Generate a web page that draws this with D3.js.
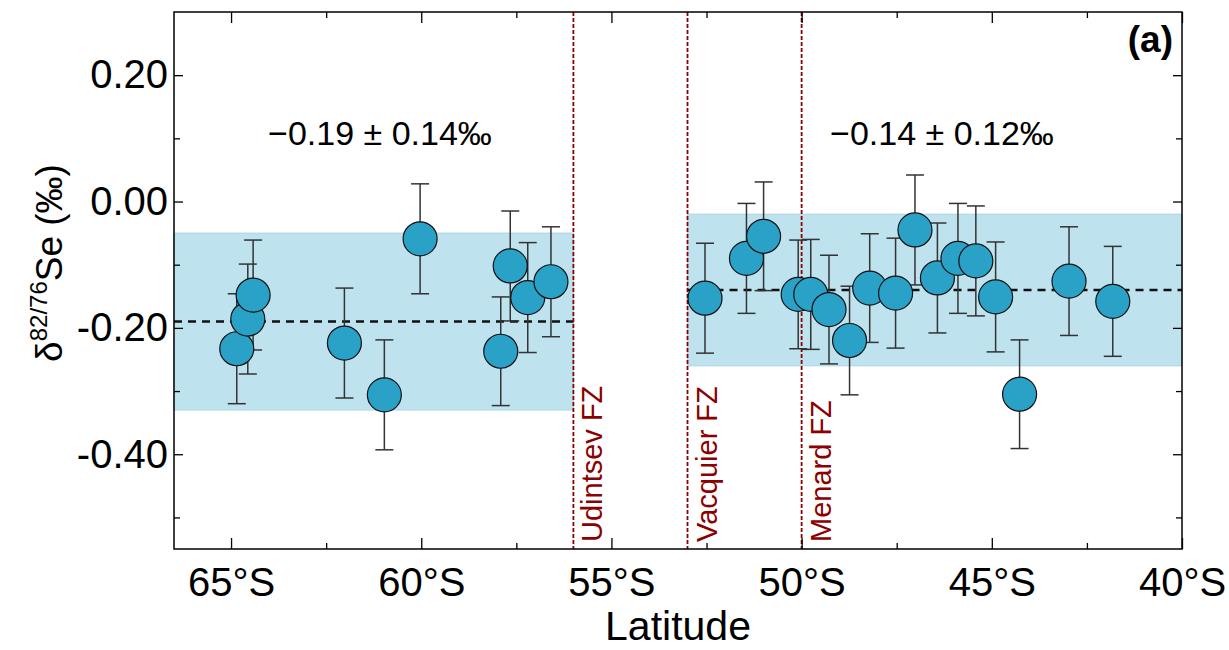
<!DOCTYPE html>
<html>
<head>
<meta charset="utf-8">
<script src="https://cdn.jsdelivr.net/npm/d3@7"></script>
<style>
  html, body { margin: 0; padding: 0; background: #fff; }
  svg { display: block; font-family: "Liberation Sans", Arial, sans-serif; }
</style>
</head>
<body>
<svg id="chart" width="1229" height="650"></svg>
<script>
// Sample latitude (°S), δ82/76Se (‰) and 2SD uncertainty
const latitude = [64.85, 64.56, 64.42, 62.02, 60.97, 60.03, 57.91, 57.66, 57.20, 56.59,
                  52.54, 51.45, 51.00, 50.09, 49.76, 49.28, 48.74, 48.21, 47.53, 47.02,
                  46.43, 45.89, 45.42, 44.90, 44.27, 42.97, 41.82];
const seValue  = [-0.233, -0.186, -0.148, -0.224, -0.306, -0.059, -0.237, -0.102, -0.152, -0.127,
                  -0.153, -0.090, -0.055, -0.147, -0.147, -0.171, -0.220, -0.137, -0.145, -0.045,
                  -0.121, -0.090, -0.094, -0.151, -0.305, -0.126, -0.158];
const seError  = [0.087, 0.087, 0.087, 0.087, 0.087, 0.087, 0.086, 0.087, 0.087, 0.087,
                  0.087, 0.087, 0.086, 0.086, 0.087, 0.086, 0.086, 0.086, 0.087, 0.087,
                  0.087, 0.087, 0.087, 0.087, 0.086, 0.086, 0.087];

// Fracture zones
const fzNames = ["Udintsev FZ", "Vacquier FZ", "Menard FZ"];
const fzLat   = [56.0, 53.0, 50.0];

// Regional averages: [from °S, to °S, mean, 2SD]
const regionFrom = [66.5, 53.0];
const regionTo   = [56.0, 40.0];
const regionMean = [-0.19, -0.14];
const regionSD   = [0.14, 0.12];
const regionText = ["\u22120.19 \u00b1 0.14\u2030", "\u22120.14 \u00b1 0.12\u2030"];

// Axis ticks
const xMajor = [65, 60, 55, 50, 45, 40];
const xMinor = [62.5, 57.5, 52.5, 47.5, 42.5];
const yMajor = [0.20, 0.00, -0.20, -0.40];
const yMinor = [0.10, -0.10, -0.30, -0.50];

const plotLeft = 174, plotRight = 1182, plotTop = 12, plotBottom = 549;
const svg = d3.select("#chart");

const x = d3.scaleLinear().domain([66.5, 40]).range([plotLeft, plotRight]);
const y = d3.scaleLinear().domain([-0.55, 0.30]).range([plotBottom, plotTop]);

// Shaded ±2SD bands
svg.append("g").selectAll("rect").data(regionMean).join("rect")
  .attr("x", (d, i) => x(regionFrom[i]))
  .attr("width", (d, i) => x(regionTo[i]) - x(regionFrom[i]))
  .attr("y", (d, i) => y(d + regionSD[i]))
  .attr("height", (d, i) => y(d - regionSD[i]) - y(d + regionSD[i]))
  .attr("fill", "#bee3ee")
  .attr("stroke", "#a6d6e6")
  .attr("stroke-width", 1);

// Regional mean lines
svg.append("g").selectAll("line").data(regionMean).join("line")
  .attr("x1", (d, i) => x(regionFrom[i]))
  .attr("x2", (d, i) => x(regionTo[i]))
  .attr("y1", d => y(d)).attr("y2", d => y(d))
  .attr("stroke", "#111").attr("stroke-width", 2.5)
  .attr("stroke-dasharray", "8,6");

// Fracture zone markers
svg.append("g").selectAll("line").data(fzLat).join("line")
  .attr("x1", d => x(d)).attr("x2", d => x(d))
  .attr("y1", plotTop).attr("y2", plotBottom)
  .attr("stroke", "#8b0000").attr("stroke-width", 1.8)
  .attr("stroke-dasharray", "4,2");

svg.append("g").selectAll("text").data(fzNames).join("text")
  .attr("transform", (d, i) => `translate(${x(fzLat[i]) + 29},542) rotate(-90)`)
  .attr("fill", "#8b0000")
  .attr("font-size", 29)
  .text(d => d);

// Error bars
const eb = svg.append("g").attr("stroke", "#333").attr("stroke-width", 1.5);
latitude.forEach((lat, i) => {
  const cx = x(lat), y1 = y(seValue[i] + seError[i]), y2 = y(seValue[i] - seError[i]);
  eb.append("line").attr("x1", cx).attr("x2", cx).attr("y1", y1).attr("y2", y2);
  eb.append("line").attr("x1", cx - 9).attr("x2", cx + 9).attr("y1", y1).attr("y2", y1);
  eb.append("line").attr("x1", cx - 9).attr("x2", cx + 9).attr("y1", y2).attr("y2", y2);
});

// Sample points
svg.append("g").selectAll("circle").data(latitude).join("circle")
  .attr("cx", d => x(d))
  .attr("cy", (d, i) => y(seValue[i]))
  .attr("r", 17)
  .attr("fill", "#2aa2c8")
  .attr("stroke", "#111")
  .attr("stroke-width", 1.2);

// Axes (ticks drawn inward on all four sides)
function styleAxis(g, fontSize) {
  g.select(".domain").remove();
  g.selectAll(".tick line").attr("stroke", "#000").attr("stroke-width", 1.3);
  g.selectAll(".tick text").attr("font-size", fontSize).attr("fill", "#000")
    .attr("font-family", "'Liberation Sans', Arial, sans-serif");
}

svg.append("g").attr("transform", `translate(0,${plotBottom})`)
  .call(d3.axisBottom(x).tickValues(xMajor).tickSize(-11).tickPadding(19)
        .tickFormat(d => d + "\u00b0S"))
  .call(g => styleAxis(g, 40));
svg.append("g").attr("transform", `translate(0,${plotBottom})`)
  .call(d3.axisBottom(x).tickValues(xMinor).tickSize(-6).tickFormat(""))
  .call(g => styleAxis(g, 0));
svg.append("g").attr("transform", `translate(0,${plotTop})`)
  .call(d3.axisTop(x).tickValues(xMajor).tickSize(-11).tickFormat(""))
  .call(g => styleAxis(g, 0));
svg.append("g").attr("transform", `translate(0,${plotTop})`)
  .call(d3.axisTop(x).tickValues(xMinor).tickSize(-6).tickFormat(""))
  .call(g => styleAxis(g, 0));

svg.append("g").attr("transform", `translate(${plotLeft},0)`)
  .call(d3.axisLeft(y).tickValues(yMajor).tickSize(-9).tickPadding(6)
        .tickFormat(d => d3.format(".2f")(d).replace("\u2212", "-")))
  .call(g => styleAxis(g, 40));
svg.append("g").attr("transform", `translate(${plotLeft},0)`)
  .call(d3.axisLeft(y).tickValues(yMinor).tickSize(-6).tickFormat(""))
  .call(g => styleAxis(g, 0));
svg.append("g").attr("transform", `translate(${plotRight},0)`)
  .call(d3.axisRight(y).tickValues(yMajor).tickSize(-9).tickFormat(""))
  .call(g => styleAxis(g, 0));
svg.append("g").attr("transform", `translate(${plotRight},0)`)
  .call(d3.axisRight(y).tickValues(yMinor).tickSize(-6).tickFormat(""))
  .call(g => styleAxis(g, 0));

// Plot frame
svg.append("rect")
  .attr("x", plotLeft).attr("y", plotTop)
  .attr("width", plotRight - plotLeft).attr("height", plotBottom - plotTop)
  .attr("fill", "none").attr("stroke", "#000").attr("stroke-width", 1.5);

// Regional average labels
svg.append("g").selectAll("text").data(regionText).join("text")
  .attr("x", (d, i) => i === 0 ? 380 : 942)
  .attr("y", 145)
  .attr("text-anchor", "middle")
  .attr("font-size", 34)
  .text(d => d);

// Panel label
svg.append("text")
  .attr("x", 1173).attr("y", 52)
  .attr("text-anchor", "end")
  .attr("font-size", 37).attr("font-weight", "bold")
  .text("(a)");

// Axis titles
svg.append("text")
  .attr("x", 678).attr("y", 640)
  .attr("text-anchor", "middle")
  .attr("font-size", 41)
  .text("Latitude");

const yt = svg.append("text")
  .attr("transform", "translate(62,263) rotate(-90)")
  .attr("text-anchor", "middle")
  .attr("font-size", 37);
yt.append("tspan").text("\u03b4");
yt.append("tspan").attr("dy", -15).attr("font-size", 24).text("82/76");
yt.append("tspan").attr("dy", 15).text("Se (\u2030)");
</script>
</body>
</html>
